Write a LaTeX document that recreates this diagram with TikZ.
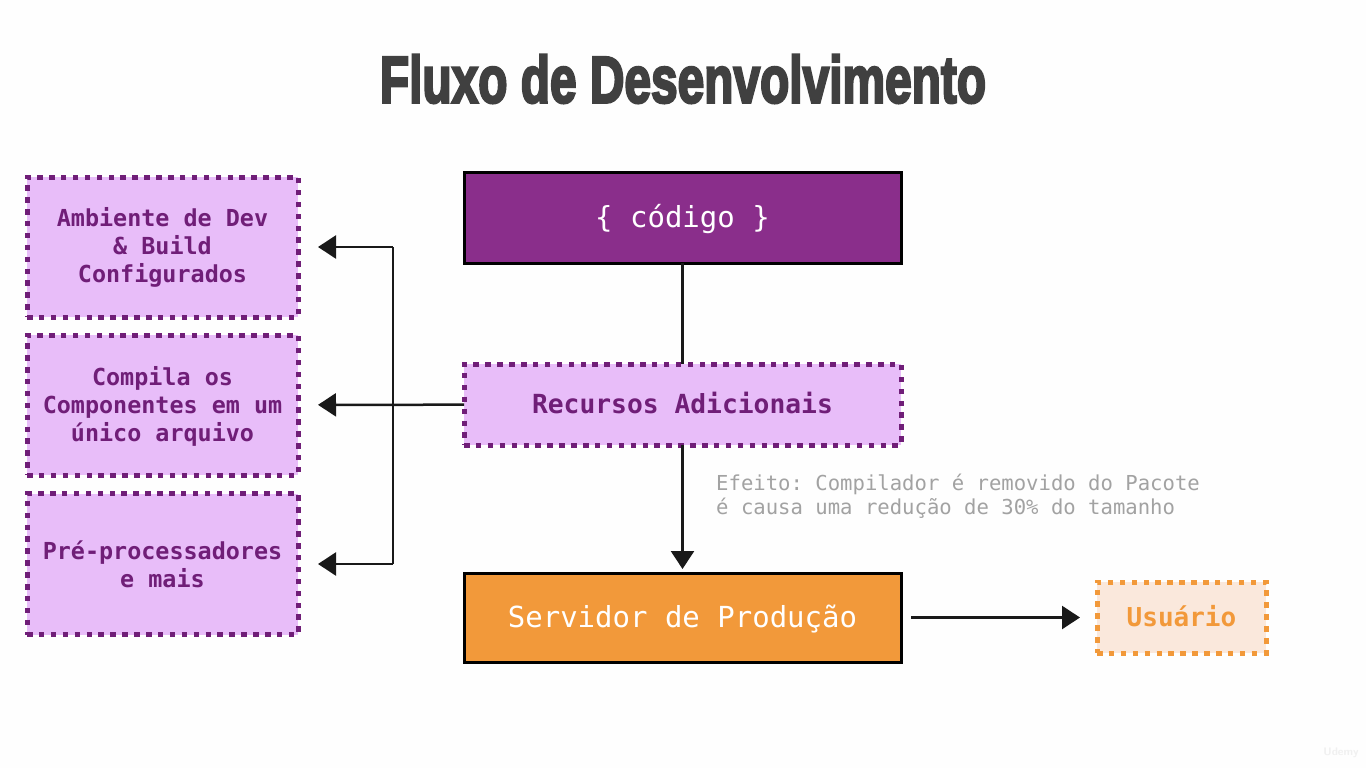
\documentclass[tikz,border=0pt]{standalone}
\usepackage{fontspec}
\usepackage{graphicx}
\setmonofont{DejaVu Sans Mono}
\newfontfamily\titlefont[FakeBold=4]{Liberation Sans Bold}
\usetikzlibrary{arrows.meta}
\definecolor{purpledark}{HTML}{8A2E8B}
\definecolor{purpletext}{HTML}{701E78}
\definecolor{purplelight}{HTML}{E8BDF9}
\definecolor{orangemain}{HTML}{F2993A}
\definecolor{orangelight}{HTML}{FAE8DC}
\definecolor{titlegray}{HTML}{404040}
\definecolor{notegray}{HTML}{A2A2A2}
\definecolor{pagebg}{HTML}{FEFEFE}
\tikzset{
  solidbox/.style={draw=black,line width=3pt,inner sep=0pt,outer sep=0pt,align=center,minimum width=437pt,text=white,text height=19pt,text depth=0pt,font=\ttfamily\fontsize{29}{34}\selectfont},
  dotbox/.style={fill=purplelight,draw=purpletext,line width=5pt,dash pattern=on 5.5pt off 6.4pt,inner sep=0pt,outer sep=0pt,align=center,text=purpletext,font=\ttfamily\bfseries\fontsize{23.4}{28}\selectfont},
  sidebox/.style={dotbox,minimum width=271pt},
  conn/.style={draw=black!90,line width=2.5pt},
  arrowconn/.style={conn,-{Triangle[length=18pt,width=23pt]}},
}
\begin{document}
\begin{tikzpicture}[x=1pt,y=-1pt]
\useasboundingbox (0,0) rectangle (1366,768);
\fill[pagebg] (0,0) rectangle (1366,768);
\node[text=titlegray,font=\titlefont\fontsize{66}{70}\selectfont] (title) at (683,79) {\scalebox{0.725}[1]{Fluxo de Desenvolvimento}};
\node[solidbox,fill=purpledark,minimum height=91pt] (code) at (682.5,217.5) {\{ código \}};
\node[dotbox,minimum width=437pt,minimum height=81pt,text height=18pt,text depth=0pt,font=\ttfamily\bfseries\fontsize{26.3}{30}\selectfont] (recursos) at (682.5,404.5) {Recursos Adicionais};
\node[solidbox,fill=orangemain,minimum height=89pt] (servidor) at (682.5,617.5) {Servidor de Produção};
\node[dotbox,fill=orangelight,draw=orangemain,text=orangemain,minimum width=169pt,minimum height=71pt,text height=17pt,text depth=0pt,font=\ttfamily\bfseries\fontsize{26}{30}\selectfont] (usuario) at (1181.5,617.5) {Usuário};
\node[sidebox,minimum height=140pt] (amb) at (162.5,247) {Ambiente de Dev\\\& Build\\Configurados};
\node[sidebox,minimum height=140pt] (comp) at (162.5,405) {\rule{0pt}{21pt}Compila os\\Componentes em um\\único arquivo};
\node[sidebox,minimum height=141pt] (pre) at (162.5,564) {Pré-processadores\\e mais};
\node[anchor=north west,inner sep=0pt,align=left,text=notegray,font=\ttfamily\fontsize{20.6}{24.5}\selectfont] (note) at (716,473.5) {Efeito: Compilador é removido do Pacote\\é causa uma redução de 30\% do tamanho};
\node[text=black!6,font=\sffamily\bfseries\fontsize{11}{12}\selectfont,inner sep=0pt] (wm) at (1341,753) {Udemy};
\coordinate (bustop) at (393,247);
\coordinate (busbot) at (393,564);
\draw[conn] (code) -- (recursos);
\draw[arrowconn,shorten >=4pt] (recursos) -- (servidor);
\draw[arrowconn,shorten <=10pt,shorten >=17pt] (servidor) -- (usuario);
\draw[arrowconn,shorten >=20pt] (recursos) -- (comp);
\draw[conn] (bustop) -- (busbot);
\draw[arrowconn,shorten >=20pt] (bustop) -- (amb);
\draw[arrowconn,shorten >=20pt] (busbot) -- (pre);
\end{tikzpicture}
\end{document}
